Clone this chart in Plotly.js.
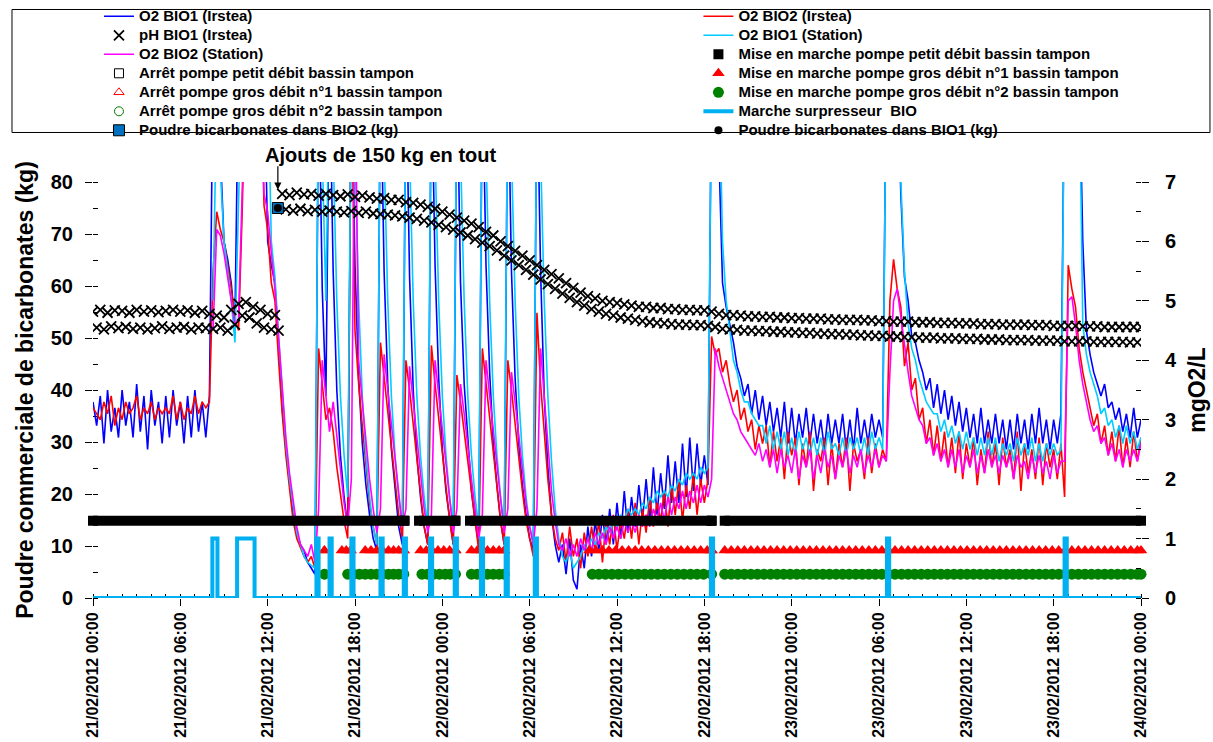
<!DOCTYPE html>
<html><head><meta charset="utf-8">
<script src="https://cdn.plot.ly/plotly-3.0.1.min.js"></script>
<style>html,body{margin:0;padding:0;background:#fff}#chart{width:1213px;height:742px}</style>
</head><body><div id="chart"></div>
<script>
// ---- time base (hours since 21/02/2012 00:00) ----
const stepH = 0.25;
const stationStartH = 8.25;
const xTickHours = [0, 6, 12, 18, 24, 30, 36, 42, 48, 54, 60, 66, 72];
const xTickLabels = ["21/02/2012 00:00", "21/02/2012 06:00", "21/02/2012 12:00", "21/02/2012 18:00",
  "22/02/2012 00:00", "22/02/2012 06:00", "22/02/2012 12:00", "22/02/2012 18:00",
  "23/02/2012 00:00", "23/02/2012 06:00", "23/02/2012 12:00", "23/02/2012 18:00", "24/02/2012 00:00"];

// ---- O2 (mgO2/L, right axis), every 0.25 h ----
const o2Bio1Irstea = [
 3.3,2.9,3.4,2.6, 3.5,2.8,3.2,2.7, 3.5,2.9,3.3,2.7, 3.6,2.8,3.4,2.5, 3.5,2.9,3.3,2.6, 3.4,2.7,3.5,2.9,
 3.3,2.6,3.4,2.7, 3.5,2.8,3.3,2.7, 3.4,9,9,7.5, 6.0,5.7,5.3,4.6, 9,9,9,9, 9,9,9,9,
 6.0,5.6,5.3,4.2, 3.2,2.5,1.9,1.4, 1.1,0.9,0.8,0.6, 0.5,0.4,9,5.2, 3.4,9,5.5,3.5, 2.4,1.7,1.2,9,
 5.6,3.7,2.6,1.9, 1.4,1.0,0.8,9, 5.5,3.6,2.5,1.8, 1.2,0.9,9,5.4, 3.5,2.4,1.7,1.2, 0.9,9,5.6,3.7,
 2.5,1.8,1.3,0.9, 9,5.3,3.6,2.6, 1.8,1.3,0.9,9, 5.6,3.8,2.6,1.9, 1.3,0.9,9,5.5, 3.7,2.6,1.9,1.4,
 1.0,0.8,9,5.5, 3.4,2.2,1.4,0.9, 0.6,0.9,0.4,1.0, 0.3,0.15,0.9,0.5, 1.2,0.7,1.3,0.8, 1.4,0.9,1.5,0.9,
 1.6,1.0,1.8,1.1, 1.7,1.2,1.9,1.3, 2.0,1.3,2.2,1.4, 2.1,1.5,2.4,1.6, 2.3,1.6,2.6,1.7, 2.7,1.8,2.6,1.9,
 2.4,1.9,9,9, 7.5,5.3,4.9,4.6, 4.3,3.9,3.7,3.4, 3.6,3.1,3.5,3.0, 3.4,2.9,3.3,2.8, 3.2,2.7,3.3,2.6,
 3.2,2.6,3.1,2.7, 3.2,2.6,3.1,2.6, 3.0,2.5,3.1,2.6, 3.0,2.6,3.1,2.5, 3.0,2.5,3.2,2.6, 3.0,2.6,3.1,2.7,
 3.0,2.7,9,9, 9,9,6.8,5.4, 5.0,4.4,4.3,4.0, 3.8,3.5,3.7,3.2, 3.6,3.1,3.5,3.0, 3.4,2.9,3.3,2.8,
 3.2,2.7,3.1,2.6, 3.2,2.6,3.0,2.6, 3.1,2.6,3.0,2.5, 3.0,2.5,3.1,2.6, 3.0,2.5,3.1,2.6, 3.2,2.6,3.0,2.5,
 3.0,2.6,3.1,9, 9,9,9,9, 6.0,4.5,4.1,3.8, 3.6,3.4,3.6,3.2, 3.3,3.0,3.2,2.8, 3.1,2.7,3.2,2.7, 3.0];
const o2Bio2Irstea = [
 3.2,3.1,3.0,3.3, 3.1,3.4,2.9,3.2, 3.0,3.3,3.1,3.2, 3.4,3.0,3.2,3.1, 3.3,3.0,3.2,3.1, 3.2,3.1,3.4,3.0,
 3.3,3.0,3.2,3.1, 3.4,3.1,3.3,3.2, 3.3,5.5,6.5,6.2, 6.0,5.6,5.2,4.7, 4.5,6.5,9,9, 9,9,9,6.6,
 6.2,5.3,5.0,4.0, 3.1,2.4,1.8,1.3, 1.0,0.85,0.7,0.6, 0.7,0.5,4.2,3.6, 3.0,3.2,2.8,2.2, 1.7,1.3,1.0,9,
 4.5,3.6,2.9,2.2, 1.6,1.2,0.9,4.3, 3.7,3.1,2.5,1.9, 1.4,1.0,4.0,3.5, 2.9,2.3,1.7,1.2, 0.9,4.25,3.6,3.0,
 2.4,1.8,1.3,0.9, 3.75,3.3,2.8,2.2, 1.7,1.2,0.8,4.2, 3.6,3.0,2.4,1.8, 1.3,0.9,4.0,3.5, 2.9,2.3,1.8,1.3,
 1.0,0.7,4.8,3.6, 2.8,2.0,1.4,1.0, 0.8,1.1,0.6,1.2, 0.7,1.0,0.5,1.1, 0.7,1.2,0.8,1.3, 0.6,1.3,0.9,1.4,
 0.8,1.3,1.0,1.5, 1.0,1.6,0.9,1.5, 1.1,1.7,1.2,1.6, 1.3,1.8,1.2,1.9, 1.4,2.0,1.3,1.9, 1.5,2.1,1.4,2.0,
 1.6,2.0,4.4,4.1, 4.2,3.8,4.0,3.6, 3.3,3.5,3.0,3.2, 2.8,3.0,2.5,2.9, 2.6,2.9,2.2,2.8, 2.3,2.7,2.0,2.8,
 2.4,2.7,1.9,2.6, 2.2,2.8,1.8,2.5, 2.3,2.7,1.9,2.6, 2.0,2.6,2.2,2.7, 1.8,2.6,2.3,2.5, 2.0,2.7,2.1,2.6,
 2.2,2.5,2.3,5.0, 5.7,5.2,4.9,3.9, 4.3,3.5,3.7,3.0, 3.2,2.6,3.0,2.4, 2.9,2.3,2.8,2.2, 2.7,2.1,2.8,2.0,
 2.6,2.2,2.7,1.9, 2.5,2.1,2.8,2.2, 2.6,1.9,2.7,2.2, 2.5,2.0,2.8,1.8, 2.6,2.1,2.5,2.0, 2.7,1.9,2.6,2.2,
 2.5,2.0,2.6,1.7, 5.6,5.2,4.9,4.2, 3.8,3.5,3.2,2.9, 3.1,2.6,2.9,2.4, 2.8,2.3,2.9,2.2, 2.7,2.2,2.8,2.3, 2.7];
// Station probes start at 21/02 08:15
const o2Bio1Station = [
 5.0,8.5,7.2, 6.0,5.5,5.0,4.3, 6.5,9,9,9, 9,9,9,9, 9,6.0,5.4,4.4, 3.4,2.6,2.0,1.5, 1.1,0.9,0.7,0.6,
 0.55,0.5,9,7.5, 5.0,9,7.5,5.0, 3.4,2.4,1.7,9, 7.5,5.0,3.4,2.4, 1.7,1.2,0.9,9, 7.5,5.0,3.4,2.4,
 1.7,1.2,9,7.5, 5.0,3.4,2.4,1.7, 1.2,9,7.5,5.0, 3.4,2.4,1.7,1.2, 9,7.5,5.0,3.4, 2.4,1.7,1.2,9,
 7.5,5.0,3.4,2.4, 1.7,1.2,9,7.5, 5.0,3.4,2.4,1.7, 1.2,0.9,9,7.5, 5.0,3.4,2.3,1.5, 1.0,0.7,0.6,0.8,
 0.5,0.6,0.7,0.9, 0.8,1.0,0.9,1.1, 1.0,1.2,1.1,1.3, 1.2,1.4,1.3,1.5, 1.4,1.5,1.4,1.6, 1.5,1.7,1.6,1.8,
 1.7,1.8,1.7,1.9, 1.8,2.0,1.9,2.1, 2.0,2.1,2.0,2.2, 2.1,2.2,9,9, 9,6.0,5.0,4.5, 4.0,3.8,3.5,3.3,
 3.3,3.1,3.0,2.9, 2.9,2.6,2.9,2.5, 2.8,2.5,2.8,2.4, 2.7,2.4,2.8,2.5, 2.7,2.4,2.7,2.4, 2.7,2.4,2.8,2.5,
 2.6,2.4,2.7,2.4, 2.7,2.5,2.7,2.4, 2.7,2.4,2.8,2.5, 2.7,2.5,9,9, 9,9,7.0,5.5, 4.6,4.2,4.0,3.7,
 3.5,3.3,3.2,3.1, 3.1,2.8,3.0,2.7, 2.9,2.6,2.8,2.5, 2.8,2.5,2.7,2.4, 2.7,2.4,2.7,2.4, 2.7,2.3,2.6,2.4,
 2.6,2.3,2.7,2.4, 2.6,2.4,2.7,2.3, 2.6,2.3,2.6,2.4, 2.6,2.4,2.5,9, 9,9,9,9, 4.6,4.1,3.8,3.6,
 3.4,3.1,3.2,2.9, 3.0,2.7,2.9,2.6, 2.9,2.6,2.8,2.5, 2.7];
const o2Bio2Station = [
 4.5,6.2,6.1, 5.8,5.4,5.0,4.6, 4.7,8.0,9,9, 9,9,9,6.8, 6.5,5.8,5.2,4.4, 3.5,2.7,2.1,1.6, 1.2,0.9,0.8,0.7,
 0.9,0.6,1.5,4.0, 3.4,2.8,3.3,2.7, 2.1,1.6,1.2,2.0, 9,4.0,3.3,2.6, 2.0,1.5,1.1,1.5, 4.1,3.5,2.9,2.3,
 1.7,1.2,1.5,3.9, 3.3,2.7,2.1,1.5, 1.1,1.4,4.0,3.4, 2.8,2.2,1.6,1.1, 1.5,3.6,3.1,2.5, 2.0,1.5,1.0,1.4,
 4.0,3.4,2.8,2.2, 1.6,1.1,1.5,3.8, 3.3,2.7,2.1,1.6, 1.2,0.9,1.5,4.2, 3.4,2.6,1.8,1.3, 0.9,0.8,1.0,0.7,
 0.9,0.7,1.0,0.8, 1.0,0.8,1.1,0.9, 1.1,0.9,1.2,1.0, 1.2,1.0,1.3,1.1, 1.3,1.1,1.4,1.2, 1.4,1.2,1.5,1.3,
 1.6,1.3,1.7,1.4, 1.7,1.5,1.8,1.5, 1.8,1.6,1.9,1.6, 1.9,1.7,2.0,4.2, 3.9,3.7,3.5,3.3, 3.1,3.0,2.8,2.7,
 2.6,2.5,2.4,2.6, 2.3,2.5,2.2,2.5, 2.1,2.5,2.2,2.4, 2.1,2.5,2.0,2.4, 2.2,2.5,2.0,2.4, 2.1,2.5,2.2,2.4,
 2.0,2.4,2.2,2.5, 2.1,2.4,2.2,2.5, 2.1,2.4,2.2,2.5, 2.2,2.4,2.3,3.8, 5.0,5.2,4.7,4.2, 3.8,3.4,3.2,3.0,
 2.9,2.6,2.7,2.4, 2.6,2.3,2.5,2.2, 2.5,2.2,2.5,2.1, 2.4,2.2,2.5,2.1, 2.4,2.1,2.5,2.2, 2.4,2.1,2.4,2.2,
 2.4,2.0,2.4,2.2, 2.3,2.0,2.4,2.1, 2.4,2.1,2.3,2.0, 2.4,2.1,2.3,2.3, 5.0,5.07,4.6,4.0, 3.6,3.3,3.0,2.8,
 2.9,2.6,2.7,2.4, 2.6,2.3,2.5,2.2, 2.5,2.3,2.5,2.3, 2.6];

// ---- pH BIO1 (plotted on right scale): high readings at 0, 0.5, 1 h ..., low readings at 0.25, 0.75 h ... ----
const phStepH = 0.5;
const phHigh = [
 4.82,4.85,4.80,4.84, 4.83,4.80,4.85,4.82, 4.84,4.81,4.83,4.85, 4.82,4.84,4.80,4.83, 4.78,4.75,4.72,4.85,
 4.95,4.98,4.90,4.85, 4.78,4.76,6.80,6.78, 6.82,6.79,6.80,6.77, 6.80,6.78,6.76,6.79, 6.75,6.77,6.74,6.72,
 6.73,6.70,6.70,6.66, 6.65,6.62,6.58,6.55, 6.50,6.45,6.40,6.35, 6.30,6.24,6.16,6.10, 6.00,5.92,5.84,5.76,
 5.68,5.60,5.52,5.45, 5.38,5.30,5.22,5.14, 5.08,5.04,5.00,4.98, 4.96,4.94,4.92,4.90, 4.90,4.88,4.88,4.86,
 4.86,4.85,4.85,4.84, 4.84,4.82,4.78,4.76, 4.76,4.75,4.74,4.74, 4.73,4.73,4.72,4.72, 4.71,4.71,4.70,4.70,
 4.70,4.69,4.69,4.68, 4.68,4.68,4.67,4.67, 4.66,4.66,4.65,4.65, 4.65,4.64,4.64,4.64, 4.63,4.63,4.63,4.62,
 4.62,4.62,4.61,4.61, 4.61,4.60,4.60,4.60, 4.60,4.59,4.59,4.59, 4.58,4.58,4.58,4.58, 4.57,4.57,4.57,4.56,
 4.56,4.56,4.56,4.56, 4.56];
const phLow = [
 4.55,4.52,4.57,4.54, 4.56,4.53,4.55,4.52, 4.54,4.57,4.53,4.55, 4.56,4.52,4.55,4.54, 4.53,4.55,4.50,4.60,
 4.75,4.72,4.62,4.55, 4.52,4.50,6.54,6.52, 6.55,6.51,6.53,6.50, 6.52,6.50,6.49,6.51, 6.48,6.50,6.47,6.46,
 6.45,6.44,6.42,6.40, 6.38,6.35,6.32,6.28, 6.24,6.20,6.15,6.10, 6.04,5.98,5.92,5.85, 5.76,5.68,5.60,5.52,
 5.44,5.36,5.28,5.20, 5.12,5.05,4.98,4.92, 4.86,4.82,4.78,4.75, 4.72,4.70,4.68,4.66, 4.64,4.63,4.62,4.61,
 4.60,4.60,4.59,4.59, 4.58,4.56,4.53,4.52, 4.51,4.50,4.50,4.49, 4.49,4.48,4.48,4.47, 4.47,4.46,4.46,4.45,
 4.45,4.44,4.44,4.43, 4.43,4.42,4.42,4.41, 4.41,4.40,4.40,4.39, 4.39,4.38,4.38,4.38, 4.37,4.37,4.37,4.36,
 4.36,4.36,4.35,4.35, 4.35,4.34,4.34,4.34, 4.34,4.33,4.33,4.33, 4.33,4.32,4.32,4.32, 4.32,4.31,4.31,4.31,
 4.31,4.31,4.30,4.30];

// ---- Marche surpresseur BIO (0 = arrêt, 1 = marche), step changes ----
const surpT = [0, 8.2, 8.55, 9.9, 11.1, 15.35, 15.5, 16.25, 16.4, 17.75, 17.9, 19.75, 19.9, 21.35, 21.5,
  23.15, 23.3, 24.85, 25.0, 26.65, 26.8, 28.35, 28.5, 30.35, 30.5, 42.45, 42.6, 54.55, 54.7, 66.75, 66.9, 72];
const surpV = [0, 1, 0, 1, 0, 1, 0, 1, 0, 1, 0, 1, 0, 1, 0, 1, 0, 1, 0, 1, 0, 1, 0, 1, 0, 1, 0, 1, 0, 1, 0, 0];

// ---- pumps of the buffer tank (event levels on right scale) ----
const levelPetit = 1.3, levelGros1 = 0.8, levelGros2 = 0.4;
const petitStart = [0, 22.4, 25.9, 43.4];
const petitEnd = [21.4, 24.9, 42.5, 72];
const gros1T = [15.9, 17.1, 17.4, 17.7, 18.7, 19.1, 19.5, 19.9, 20.3, 20.65, 21.0, 21.35, 22.5, 22.9, 23.3, 23.7,
  24.1, 24.5, 24.9, 26.0, 26.4, 26.75, 27.1, 27.5, 27.9, 28.25, 34.1, 34.55, 35.0, 35.45, 35.9, 36.35, 36.8, 37.25,
  37.7, 38.15, 38.6, 39.05, 39.5, 39.95, 40.4, 40.85, 41.3, 41.75, 42.2, 42.5, 43.4, 43.85, 44.3, 44.75, 45.2, 45.65,
  46.1, 46.55, 47.0, 47.45, 47.9, 48.35, 48.8, 49.25, 49.7, 50.15, 50.6, 51.05, 51.5, 51.95, 52.4, 52.85, 53.3, 53.75,
  54.2, 54.65, 55.1, 55.55, 56.0, 56.45, 56.9, 57.35, 57.8, 58.25, 58.7, 59.15, 59.6, 60.05, 60.5, 60.95, 61.4, 61.85,
  62.3, 62.75, 63.2, 63.65, 64.1, 64.55, 65.0, 65.45, 65.9, 66.35, 66.8, 67.25, 67.7, 68.15, 68.6, 69.05, 69.5, 69.95,
  70.4, 70.85, 71.3, 71.75, 72.0];
const gros2T = [15.9, 17.5, 17.9, 18.3, 18.7, 19.1, 19.5, 19.9, 20.3, 20.65, 21.0, 21.35, 22.6, 23.0, 23.4, 23.8,
  24.2, 24.55, 24.9, 26.0, 26.4, 26.75, 27.1, 27.5, 27.9, 28.25, 34.3, 34.75, 35.2, 35.65, 36.1, 36.55, 37.0, 37.45,
  37.9, 38.35, 38.8, 39.25, 39.7, 40.15, 40.6, 41.05, 41.5, 41.95, 42.5, 43.4, 43.85, 44.3, 44.75, 45.2, 45.65,
  46.1, 46.55, 47.0, 47.45, 47.9, 48.35, 48.8, 49.25, 49.7, 50.15, 50.6, 51.05, 51.5, 51.95, 52.4, 52.85, 53.3, 53.75,
  54.2, 54.65, 55.1, 55.55, 56.0, 56.45, 56.9, 57.35, 57.8, 58.25, 58.7, 59.15, 59.6, 60.05, 60.5, 60.95, 61.4, 61.85,
  62.3, 62.75, 63.2, 63.65, 64.1, 64.55, 65.0, 65.45, 65.9, 66.35, 66.8, 67.25, 67.7, 68.15, 68.6, 69.05, 69.5, 69.95,
  70.4, 70.85, 71.3, 71.75, 72.0];
const arretPetitT = [21.4, 24.9, 42.5];
const arretGros1T = [15.9, 17.7, 21.35, 24.9, 28.25, 42.5];
const arretGros2T = [15.9, 21.35, 24.9, 28.25, 42.5];

// ---- bicarbonate powder addition (kg, left axis) ----
const poudreT = [12.7];
const poudreBio2 = [75];
const poudreBio1 = [75];

// ---------------- build ----------------
const FONT = 'Liberation Sans, Arial, Helvetica, sans-serif';
function times(start, n, step) { const a = []; for (let i = 0; i < n; i++) a.push(+(start + i * step).toFixed(3)); return a; }
function nm(t) { return '<span style="font-size:15px">' + t + '</span>'; }

const tIrstea = times(0, o2Bio1Irstea.length, stepH);
const tStation = times(stationStartH, o2Bio1Station.length, stepH);
const phX = [], phY = [];
phHigh.forEach((v, k) => {
  phX.push(k * phStepH); phY.push(v);
  if (k < phLow.length) { phX.push(k * phStepH + phStepH / 2); phY.push(phLow[k]); }
});
const bandX = [], bandY = [], bandMX = [];
petitStart.forEach((s, i) => {
  if (i > 0) { bandX.push(null); bandY.push(null); }
  bandX.push(s, petitEnd[i]); bandY.push(levelPetit, levelPetit);
  bandMX.push(s, petitEnd[i]);
});

const traces = [
  { x: tIrstea, y: o2Bio1Irstea, yaxis: 'y2', mode: 'lines', name: nm('O2 BIO1 (Irstea)'),
    line: { color: '#0000FF', width: 1.6 }, legend: 'legend', legendrank: 1 },
  { x: tIrstea, y: o2Bio2Irstea, yaxis: 'y2', mode: 'lines', name: nm('O2 BIO2 (Irstea)'),
    line: { color: '#FF0000', width: 1.6 }, legend: 'legend2', legendrank: 1 },
  { x: tStation, y: o2Bio1Station, yaxis: 'y2', mode: 'lines', name: nm('O2 BIO1 (Station)'),
    line: { color: '#00CCFF', width: 1.6 }, legend: 'legend2', legendrank: 2 },
  { x: tStation, y: o2Bio2Station, yaxis: 'y2', mode: 'lines', name: nm('O2 BIO2 (Station)'),
    line: { color: '#FF00FF', width: 1.6 }, legend: 'legend', legendrank: 3 },
  { x: phX, y: phY, yaxis: 'y2', mode: 'markers', name: nm('pH BIO1 (Irstea)'),
    marker: { symbol: 'x-thin-open', size: 10, color: '#000', line: { color: '#000', width: 1.8 } },
    legend: 'legend', legendrank: 2 },
  { x: arretPetitT, y: arretPetitT.map(() => levelPetit), yaxis: 'y2', mode: 'markers',
    name: nm('Arrêt pompe petit débit bassin tampon'), cliponaxis: false,
    marker: { symbol: 'square-open', size: 9, color: '#000', line: { width: 1 } }, legend: 'legend', legendrank: 4 },
  { x: bandX, y: bandY, yaxis: 'y2', mode: 'lines', line: { color: '#000', width: 10 }, showlegend: false,
    hoverinfo: 'skip' },
  { x: bandMX, y: bandMX.map(() => levelPetit), yaxis: 'y2', mode: 'markers', cliponaxis: false,
    name: nm('Mise en marche pompe petit débit bassin tampon'),
    marker: { symbol: 'square', size: 10, color: '#000' }, legend: 'legend2', legendrank: 3 },
  { x: arretGros1T, y: arretGros1T.map(() => levelGros1), yaxis: 'y2', mode: 'markers', cliponaxis: false,
    name: nm('Arrêt pompe gros débit n°1 bassin tampon'),
    marker: { symbol: 'triangle-up-open', size: 9, color: '#FF0000', line: { width: 1 } }, legend: 'legend', legendrank: 5 },
  { x: gros1T, y: gros1T.map(() => levelGros1), yaxis: 'y2', mode: 'markers', cliponaxis: false,
    name: nm('Mise en marche pompe gros débit n°1 bassin tampon'),
    marker: { symbol: 'triangle-up', size: 11, color: '#FF0000' }, legend: 'legend2', legendrank: 4 },
  { x: arretGros2T, y: arretGros2T.map(() => levelGros2), yaxis: 'y2', mode: 'markers', cliponaxis: false,
    name: nm('Arrêt pompe gros débit n°2 bassin tampon'),
    marker: { symbol: 'circle-open', size: 9, color: '#008000', line: { width: 1 } }, legend: 'legend', legendrank: 6 },
  { x: gros2T, y: gros2T.map(() => levelGros2), yaxis: 'y2', mode: 'markers', cliponaxis: false,
    name: nm('Mise en marche pompe gros débit n°2 bassin tampon'),
    marker: { symbol: 'circle', size: 11, color: '#008000' }, legend: 'legend2', legendrank: 5 },
  { x: surpT, y: surpV, yaxis: 'y2', mode: 'lines', line: { shape: 'hv', color: '#00B0F0', width: 4 },
    name: nm('Marche surpresseur  BIO'), legend: 'legend2', legendrank: 6 },
  { x: poudreT, y: poudreBio2, yaxis: 'y', mode: 'markers', name: nm('Poudre bicarbonates dans BIO2 (kg)'),
    marker: { symbol: 'square', size: 11, color: '#0070C0', line: { color: '#000', width: 1 } },
    legend: 'legend', legendrank: 7, zorder: 5 },
  { x: poudreT, y: poudreBio1, yaxis: 'y', mode: 'markers', name: nm('Poudre bicarbonates dans BIO1 (kg)'),
    marker: { symbol: 'circle', size: 8, color: '#000' }, legend: 'legend2', legendrank: 7, zorder: 6 }
];

const tickFontY = { family: FONT, size: 20, color: '#000', weight: 'bold' };
const legendCommon = { orientation: 'v', xanchor: 'left', yanchor: 'top', bgcolor: 'rgba(0,0,0,0)',
  borderwidth: 0, font: { family: FONT, size: 11, color: '#000', weight: 'bold' }, traceorder: 'normal',
  itemsizing: 'trace', tracegroupgap: 0 };

const layout = {
  width: 1213, height: 742,
  margin: { l: 93, r: 72, t: 182, b: 144, pad: 0, autoexpand: false },
  paper_bgcolor: '#ffffff', plot_bgcolor: '#ffffff',
  font: { family: FONT, color: '#000', weight: 'bold' },
  showlegend: true,
  legend: Object.assign({ x: 0.0057, y: 1.4332 }, legendCommon),
  legend2: Object.assign({ x: 0.5777, y: 1.4332 }, legendCommon),
  xaxis: {
    range: [0, 72], tickmode: 'array', tickvals: xTickHours, ticktext: xTickLabels, tickangle: -90,
    ticks: 'outside', ticklen: 7, tickcolor: '#000', tickwidth: 1,
    showline: true, linecolor: '#000', linewidth: 1, showgrid: false, zeroline: false,
    tickfont: { family: FONT, size: 16, color: '#000', weight: 'bold' },
    minor: { tickmode: 'linear', tick0: 0, dtick: 1, ticks: 'inside', ticklen: 4, tickcolor: '#000', showgrid: false }
  },
  yaxis: {
    range: [0, 80], tickmode: 'linear', tick0: 0, dtick: 10,
    ticks: 'outside', ticklen: 7, tickcolor: '#000', showline: true, linecolor: '#000', linewidth: 1,
    showgrid: false, zeroline: false, tickfont: tickFontY, ticklabelstandoff: 8,
    minor: { tickmode: 'linear', tick0: 0, dtick: 5, ticks: 'inside', ticklen: 5, tickcolor: '#000', showgrid: false },
    title: { text: 'Poudre commerciale de bicarbonates (kg)', font: { family: FONT, size: 23, color: '#000', weight: 'bold' }, standoff: 10 }
  },
  yaxis2: {
    overlaying: 'y', side: 'right', range: [0, 7], tickmode: 'linear', tick0: 0, dtick: 1,
    ticks: 'outside', ticklen: 7, tickcolor: '#000', showline: true, linecolor: '#000', linewidth: 1,
    showgrid: false, zeroline: false, tickfont: tickFontY, ticklabelstandoff: 12,
    minor: { tickmode: 'linear', tick0: 0, dtick: 0.5, ticks: 'inside', ticklen: 5, tickcolor: '#000', showgrid: false },
    title: { text: 'mgO2/L', font: { family: FONT, size: 23, color: '#000', weight: 'bold' }, standoff: 12 }
  },
  annotations: [
    { xref: 'paper', yref: 'paper', x: 0.2748, y: 1.065, text: 'Ajouts de 150 kg en tout', showarrow: false,
      font: { family: FONT, size: 20, color: '#000', weight: 'bold' }, xanchor: 'center', yanchor: 'middle' },
    { xref: 'x', yref: 'y', x: 12.7, y: 78.5, ax: 0, ay: -25, text: '', showarrow: true,
      arrowhead: 2, arrowsize: 1.2, arrowwidth: 1.2, arrowcolor: '#000' }
  ],
  shapes: [
    { type: 'rect', xref: 'paper', yref: 'paper', x0: -0.0773, x1: 1.0658, y0: 1.119, y1: 1.4147,
      line: { color: '#000', width: 1 }, fillcolor: 'rgba(0,0,0,0)', layer: 'above' }
  ]
};

Plotly.newPlot('chart', traces, layout, { displayModeBar: false, staticPlot: true });
</script>
</body></html>
